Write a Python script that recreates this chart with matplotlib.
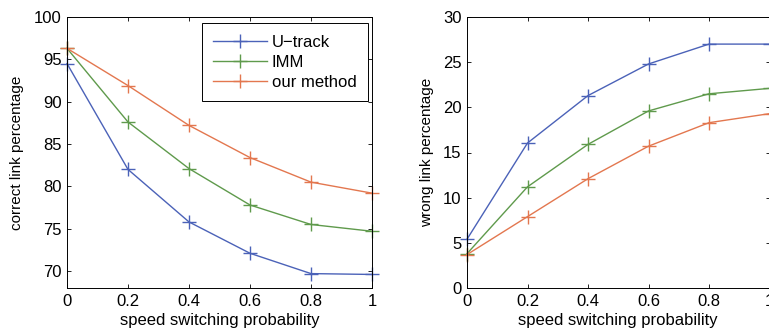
import matplotlib
matplotlib.use("Agg")
import matplotlib.pyplot as plt

# data
prob = [0, 0.2, 0.4, 0.6, 0.8, 1.0]
names = ["U\u2212track", "IMM", "our method"]
correct_utrack = [94.5, 82.0, 75.8, 72.1, 69.7, 69.6]
correct_imm = [96.3, 87.6, 82.1, 77.8, 75.5, 74.7]
correct_ours = [96.3, 91.9, 87.2, 83.4, 80.5, 79.2]
wrong_utrack = [5.4, 16.05, 21.3, 24.8, 27.0, 27.0]
wrong_imm = [3.8, 11.2, 15.9, 19.6, 21.5, 22.1]
wrong_ours = [3.7, 7.9, 12.1, 15.7, 18.3, 19.3]

colors = ["#4b62b8", "#5f9a4c", "#e3774f"]

plt.rcParams["font.family"] = ["Liberation Sans", "DejaVu Sans"]
plt.rcParams["font.size"] = 11.5

fig = plt.figure(figsize=(7.69, 3.36), dpi=100)
W, H = 769, 336
ax1 = fig.add_axes([67 / W, 48 / H, 305 / W, 271 / H])
ax2 = fig.add_axes([467 / W, 48 / H, 302.5 / W, 271 / H])


def style(ax):
    ax.tick_params(direction="in", top=True, right=True, length=3, width=0.6,
                   labelsize=12, colors="black", pad=4)
    for s in ax.spines.values():
        s.set_linewidth(0.7)
    ax.set_xlim(0, 1)
    ax.set_xticks(prob)
    ax.set_xticklabels(["0", "0.2", "0.4", "0.6", "0.8", "1"])
    ax.set_xlabel("speed switching probability", labelpad=3, fontsize=12)


for ys, c, n in zip([correct_utrack, correct_imm, correct_ours], colors, names):
    ax1.plot(prob, ys, color=c, marker="+", markersize=10, markeredgewidth=1.0,
             linewidth=1.0, label=n, clip_on=False)
style(ax1)
ax1.set_ylim(68, 100)
ax1.set_yticks([70, 75, 80, 85, 90, 95, 100])
ax1.set_ylabel("correct link percentage", labelpad=7, fontsize=11)
leg = ax1.legend(loc="upper right", bbox_to_anchor=(0.987, 0.978), fancybox=False,
                 edgecolor="black", framealpha=1, handlelength=3.2, fontsize=12,
                 borderpad=0.7, labelspacing=0.3, handletextpad=0.3,
                 borderaxespad=0)
leg.get_frame().set_linewidth(0.7)

for ys, c in zip([wrong_utrack, wrong_imm, wrong_ours], colors):
    ax2.plot(prob, ys, color=c, marker="+", markersize=10, markeredgewidth=1.0,
             linewidth=1.0, clip_on=False)
style(ax2)
ax2.set_ylim(0, 30)
ax2.set_yticks([0, 5, 10, 15, 20, 25, 30])
ax2.set_ylabel("wrong link percentage", labelpad=6, fontsize=11)

fig.savefig("out.png", dpi=100)
